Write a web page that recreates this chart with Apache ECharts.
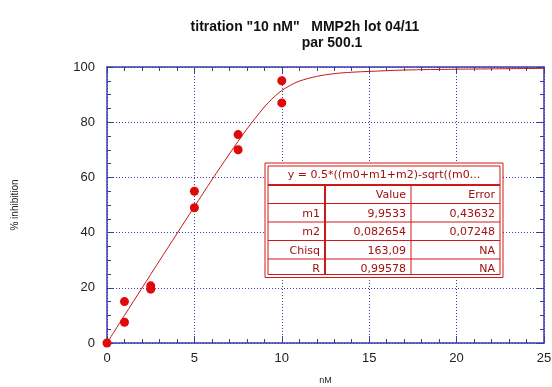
<!DOCTYPE html>
<html>
<head>
<meta charset="utf-8">
<script src="https://cdn.jsdelivr.net/npm/echarts@6/dist/echarts.min.js"></script>
<style>
  html, body { margin: 0; padding: 0; background: #fff; }
  #chart { width: 552px; height: 387px; }
</style>
</head>
<body>
<div id="chart"></div>
<script>
// Measured inhibition at each inhibitor concentration (nM, %)
const concNM = [0, 1, 1, 2.5, 2.5, 5, 5, 7.5, 7.5, 10, 10];
const inhibition = [0, 15, 7.5, 20.7, 19.5, 55, 49, 75.5, 70, 95, 87];

// Fitted tight-binding curve, sampled along the concentration axis
const fitX = [0, 1, 2, 3, 4, 5, 6, 7, 8, 9, 9.5, 10, 10.5, 11, 12, 13, 14, 15, 17, 20, 25];
const fitY = [0, 10.0, 19.9, 29.8, 39.6, 49.4, 59.1, 68.5, 77.5, 85.5, 88.8, 91.5, 93.4, 94.9, 96.6, 97.6, 98.1, 98.4, 98.9, 99.2, 99.5];

// Axis ticks
const xTicks = [0, 5, 10, 15, 20, 25];
const yTicks = [0, 20, 40, 60, 80, 100];

// Fit results box
const fitFormula = 'y = 0.5*((m0+m1+m2)-sqrt((m0...';
const colHeads = ['', 'Value', 'Error'];
const rowNames = ['m1', 'm2', 'Chisq', 'R'];
const rowValues = ['9,9533', '0,082654', '163,09', '0,99578'];
const rowErrors = ['0,43632', '0,07248', 'NA', 'NA'];

const axisBlue = '#3b3ba8';
const boxRed = '#d01818';
const textRed = '#a01010';

const chart = echarts.init(document.getElementById('chart'));

// Build the fit results box as graphic elements
function buildTable() {
  const x0 = 265, y0 = 163, w = 238;
  const headH = 22, rowH = 18.5;
  const c1 = 325, c2 = 411;
  const nRows = rowNames.length + 1;
  const h = headH + nRows * rowH;
  const els = [];
  els.push({ type: 'rect', shape: { x: x0, y: y0, width: w, height: h },
    style: { fill: '#fff', stroke: boxRed, lineWidth: 1 }, z: 100 });
  els.push({ type: 'rect', shape: { x: x0 + 3, y: y0 + 3, width: w - 6, height: h - 6 },
    style: { fill: 'none', stroke: boxRed, lineWidth: 1 }, z: 101 });
  els.push({ type: 'text', x: x0 + w / 2, y: y0 + headH / 2 + 1,
    style: { text: fitFormula, fill: textRed, font: '11px "DejaVu Sans"', align: 'center', verticalAlign: 'middle' }, z: 102 });
  // horizontal row lines
  for (let i = 0; i < nRows; i++) {
    const yy = y0 + headH + i * rowH;
    els.push({ type: 'line', shape: { x1: x0 + 3, y1: yy, x2: x0 + w - 3, y2: yy },
      style: { stroke: boxRed, lineWidth: i === 0 ? 2 : 1 }, z: 101 });
  }
  // column separators
  els.push({ type: 'line', shape: { x1: c1, y1: y0 + headH, x2: c1, y2: y0 + h - 3 },
    style: { stroke: boxRed, lineWidth: 2 }, z: 101 });
  els.push({ type: 'line', shape: { x1: c2, y1: y0 + headH, x2: c2, y2: y0 + h - 3 },
    style: { stroke: boxRed, lineWidth: 1 }, z: 101 });
  const rows = [colHeads].concat(rowNames.map((n, i) => [n, rowValues[i], rowErrors[i]]));
  const rights = [c1 - 5, c2 - 5, x0 + w - 8];
  rows.forEach((r, i) => {
    const yy = y0 + headH + i * rowH + rowH / 2 + 1;
    r.forEach((t, j) => {
      if (!t) return;
      els.push({ type: 'text', x: rights[j], y: yy,
        style: { text: t, fill: textRed, font: '11px "DejaVu Sans"', align: 'right', verticalAlign: 'middle' }, z: 102 });
    });
  });
  return els;
}

const labelStyle = { color: '#222', fontSize: 13, fontFamily: 'Liberation Sans' };

chart.setOption({
  animation: false,
  backgroundColor: '#fff',
  title: [
    { text: 'titration "10 nM"   MMP2h lot 04/11', left: 300, top: 15, textAlign: 'center',
      textStyle: { fontSize: 14, fontWeight: 'bold', color: '#111', fontFamily: 'Liberation Sans' } },
    { text: 'par 500.1', left: 327, top: 31, textAlign: 'center',
      textStyle: { fontSize: 14, fontWeight: 'bold', color: '#111', fontFamily: 'Liberation Sans' } }
  ],
  grid: { left: 107, top: 67, right: 8, bottom: 44, containLabel: false, outerBoundsMode: 'none' },
  xAxis: [
    { type: 'value', min: xTicks[0], max: xTicks[xTicks.length - 1], interval: 5,
      name: 'nM', nameLocation: 'middle', nameGap: 33,
      nameTextStyle: { fontSize: 9, color: '#222', fontFamily: 'Liberation Sans' },
      axisLine: { onZero: false, lineStyle: { color: axisBlue, width: 1.5 } },
      axisTick: { inside: true, length: 7, lineStyle: { color: axisBlue } },
      minorTick: { show: true, splitNumber: 5, length: 4, lineStyle: { color: axisBlue } },
      axisLabel: Object.assign({ margin: 9 }, labelStyle),
      splitLine: { show: true, lineStyle: { color: axisBlue, type: [1, 2], width: 1 } } },
    { type: 'value', position: 'top', min: 0, max: 25, interval: 5,
      axisLine: { onZero: false, lineStyle: { color: axisBlue, width: 1.5 } },
      axisTick: { inside: true, length: 7, lineStyle: { color: axisBlue } },
      minorTick: { show: true, splitNumber: 5, length: 4, lineStyle: { color: axisBlue } },
      axisLabel: { show: false }, splitLine: { show: false } }
  ],
  yAxis: [
    { type: 'value', min: yTicks[0], max: yTicks[yTicks.length - 1], interval: 20,
      name: '% inhibition', nameLocation: 'middle', nameGap: 87,
      nameTextStyle: { fontSize: 10, color: '#222', fontFamily: 'Liberation Sans' },
      axisLine: { onZero: false, lineStyle: { color: axisBlue, width: 1.5 } },
      axisTick: { inside: true, length: 7, lineStyle: { color: axisBlue } },
      minorTick: { show: true, splitNumber: 4, length: 4, lineStyle: { color: axisBlue } },
      axisLabel: Object.assign({ margin: 12 }, labelStyle),
      splitLine: { show: true, lineStyle: { color: axisBlue, type: [1, 2], width: 1 } } },
    { type: 'value', position: 'right', min: 0, max: 100, interval: 20,
      axisLine: { onZero: false, lineStyle: { color: axisBlue, width: 1.5 } },
      axisTick: { inside: true, length: 7, lineStyle: { color: axisBlue } },
      minorTick: { show: true, splitNumber: 4, length: 4, lineStyle: { color: axisBlue } },
      axisLabel: { show: false }, splitLine: { show: false } }
  ],
  series: [
    { type: 'line', name: 'fit', data: fitX.map((x, i) => [x, fitY[i]]),
      smooth: 0.3, showSymbol: false, clip: false,
      lineStyle: { color: '#c41a1a', width: 1 }, z: 3 },
    { type: 'scatter', name: 'data', data: concNM.map((x, i) => [x, inhibition[i]]),
      symbol: 'circle', symbolSize: 9, clip: false,
      itemStyle: { color: '#e00808', opacity: 1 }, z: 4 }
  ],
  graphic: buildTable()
});
</script>
</body>
</html>
